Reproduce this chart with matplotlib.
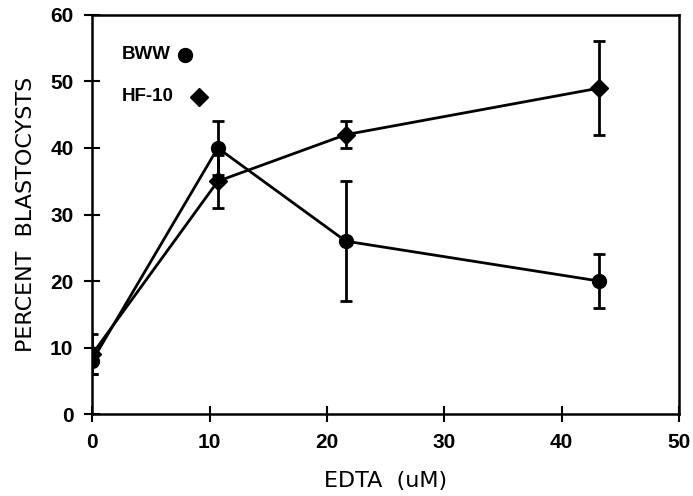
import matplotlib.pyplot as plt

# data
edta = [0, 10.7, 21.6, 43.2]
bww = [8, 40, 26, 20]
bww_err = [2, 4, 9, 4]
hf10 = [9, 35, 42, 49]
hf10_err = [3, 4, 2, 7]

xticks = [0, 10, 20, 30, 40, 50]
yticks = [0, 10, 20, 30, 40, 50, 60]

plt.rcParams['font.family'] = ['DejaVu Sans']

fig = plt.figure(figsize=(6.93, 4.96), dpi=100)
ax = fig.add_axes([0.133, 0.165, 0.847, 0.805])

ax.errorbar(edta, bww, yerr=bww_err, color='black', lw=2, marker='o', ms=10,
            capsize=4, capthick=2, elinewidth=2)
ax.errorbar(edta, hf10, yerr=hf10_err, color='black', lw=2, marker='D', ms=9,
            capsize=4, capthick=2, elinewidth=2)

ax.set_xlim(0, 50)
ax.set_ylim(0, 60)
ax.set_xticks(xticks)
ax.set_yticks(yticks)
ax.tick_params(direction='inout', length=11, width=1.5, pad=8)
for lab in ax.get_xticklabels() + ax.get_yticklabels():
    lab.set_fontfamily('Liberation Sans')
    lab.set_fontweight('bold')
    lab.set_fontsize(15)
for s in ax.spines.values():
    s.set_linewidth(1.8)

ax.set_xlabel('EDTA  (uM)', fontsize=16, labelpad=14)
ax.set_ylabel('PERCENT  BLASTOCYSTS', fontsize=16, labelpad=10)

# legend drawn by hand like in the original
ax.text(0.051, 0.9, 'BWW', transform=ax.transAxes, fontsize=13.5,
        fontweight='bold', va='center', family='Liberation Sans')
ax.plot([0.158], [0.9], 'o', color='black', ms=10, transform=ax.transAxes)
ax.text(0.051, 0.795, 'HF-10', transform=ax.transAxes, fontsize=13.5,
        fontweight='bold', va='center', family='Liberation Sans')
ax.plot([0.182], [0.795], 'D', color='black', ms=9, transform=ax.transAxes)

fig.savefig('out.png', dpi=100)
